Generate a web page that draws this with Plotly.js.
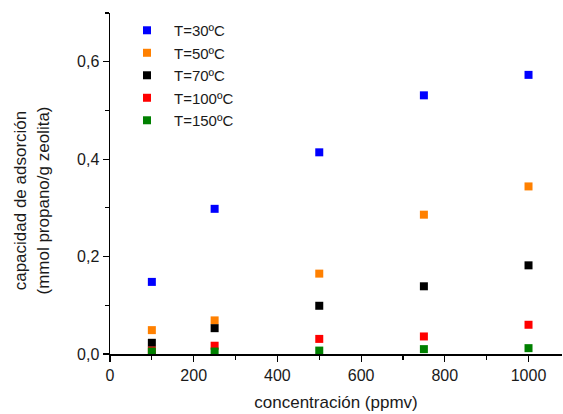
<!DOCTYPE html>
<html>
<head>
<meta charset="utf-8">
<script src="https://cdn.plot.ly/plotly-3.0.1.min.js"></script>
<style>html,body{margin:0;padding:0;background:#fff;}#chart{width:563px;height:414px;}</style>
</head>
<body>
<div id="chart"></div>
<script>
const concentracion = [100, 250, 500, 750, 1000];
const seriesNames = ["T=30ºC", "T=50ºC", "T=70ºC", "T=100ºC", "T=150ºC"];
const seriesColors = ["#0000FF", "#FF8000", "#000000", "#FF0000", "#008000"];
const T30 = [0.148, 0.298, 0.414, 0.531, 0.573];
const T50 = [0.049, 0.069, 0.165, 0.286, 0.344];
const T70 = [0.023, 0.053, 0.099, 0.139, 0.182];
const T100 = [0.007, 0.017, 0.031, 0.036, 0.060];
const T150 = [0.005, 0.005, 0.007, 0.010, 0.012];
const allSeries = [T30, T50, T70, T100, T150];
const xTitle = 'concentración (ppmv)';
const yTitle = 'capacidad de adsorción<br>(mmol propano/g zeolita)';

const traces = allSeries.map((vals, i) => ({
  type: 'scatter',
  mode: 'markers',
  x: concentracion,
  y: vals,
  name: seriesNames[i],
  marker: {symbol: 'square', size: 8, color: seriesColors[i], line: {width: 0}}
}));

const fam = 'Liberation Sans, Arial, sans-serif';
const txt = '#1a1a1a';

const layout = {
  width: 563, height: 414,
  margin: {l: 110, r: 1, t: 13, b: 60},
  paper_bgcolor: '#ffffff', plot_bgcolor: '#ffffff',
  font: {family: fam, size: 16, color: txt},
  separators: ',.',
  showlegend: true,
  legend: {
    x: 0.0221, y: 0.997, xanchor: 'left', yanchor: 'top',
    itemwidth: 44,
    bgcolor: 'rgba(0,0,0,0)', borderwidth: 0,
    font: {family: fam, size: 15, color: txt},
    tracegroupgap: 0
  },
  xaxis: {
    range: [0, 1080],
    tickmode: 'linear', tick0: 0, dtick: 200,
    ticks: 'outside', ticklen: 6, tickwidth: 1.2, tickcolor: '#000',
    minor: {dtick: 100, ticks: 'outside', ticklen: 4, tickwidth: 1.2, tickcolor: '#000'},
    showline: true, linecolor: '#000', linewidth: 1.5,
    showgrid: false, zeroline: false,
    tickfont: {family: fam, size: 16, color: txt},
    title: {text: xTitle, font: {family: fam, size: 17, color: txt}, standoff: 13}
  },
  yaxis: {
    range: [0, 0.7],
    tickmode: 'linear', tick0: 0, dtick: 0.2,
    tickformat: '.1f',
    ticks: 'outside', ticklen: 6, tickwidth: 1.2, tickcolor: '#000',
    minor: {dtick: 0.1, ticks: 'outside', ticklen: 4, tickwidth: 1.2, tickcolor: '#000'},
    showline: true, linecolor: '#000', linewidth: 1.5,
    showgrid: false, zeroline: false,
    tickfont: {family: fam, size: 16, color: txt}
  },
  annotations: [{
    text: yTitle,
    xref: 'paper', yref: 'paper',
    x: -0.1726, y: 0.45,
    xanchor: 'center', yanchor: 'middle',
    textangle: -90,
    showarrow: false,
    font: {family: fam, size: 17, color: txt}
  }]
};

Plotly.newPlot('chart', traces, layout, {displayModeBar: false, staticPlot: true});
</script>
</body>
</html>
